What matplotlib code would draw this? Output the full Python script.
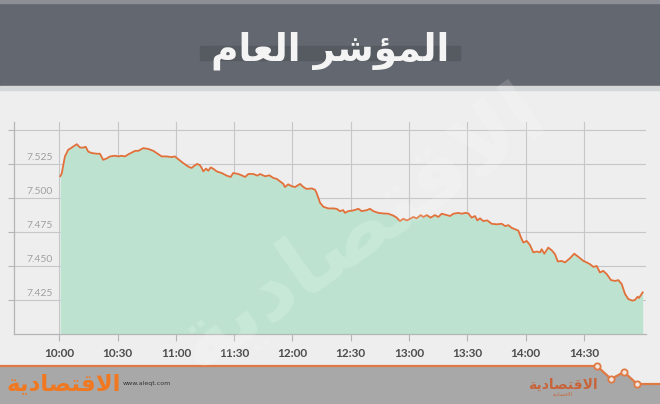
import matplotlib.pyplot as plt
from matplotlib.patches import Rectangle, Polygon
from matplotlib.transforms import blended_transform_factory

# Minutes after 10:00 and index level
minutes = [0.5, 1.2, 2.9, 4.6, 6.0, 7.2, 9.0, 10.7, 12.4, 13.6, 14.9, 16.7, 19.2, 20.9,
           22.6, 24.4, 26.1, 28.7, 30.4, 32.1, 33.8, 35.5, 39.0, 40.7, 43.2, 45.8, 48.4,
           50.1, 52.7, 55.3, 57.8, 59.5, 61.2, 63.8, 66.4, 68.1, 69.8, 71.0, 72.4, 73.3,
           74.1, 75.5, 76.7, 77.9, 79.2, 81.0, 83.6, 86.1, 88.2, 89.5, 92.1, 93.9, 95.6,
           97.3, 99.8, 101.9, 103.3, 105.9, 108.1, 110.1, 111.9, 113.6, 115.3, 116.1, 117.8,
           119.6, 121.3, 123.9, 125.6, 127.3, 129.9, 131.6, 132.4, 133.3, 134.2, 135.9,
           138.4, 141.0, 142.7, 144.4, 146.1, 147.0, 148.7, 151.3, 153.9, 155.6, 158.2,
           159.9, 161.6, 164.2, 166.7, 169.3, 171.9, 173.6, 175.3, 177.0, 178.8, 179.6,
           182.2, 183.9, 186.0, 187.3, 189.1, 191.1, 193.3, 195.0, 196.8, 199.4, 201.1,
           202.8, 205.3, 207.1, 208.8, 210.5, 212.2, 213.9, 215.1, 216.5, 218.2, 220.2,
           222.5, 225.1, 227.7, 229.4, 231.1, 232.8, 234.5, 236.2, 237.6, 238.8, 240.5,
           242.2, 243.9, 245.7, 247.4, 248.2, 249.6, 251.6, 253.4, 255.1, 256.5, 258.5,
           260.2, 262.8, 265.0, 267.1, 269.7, 271.4, 273.1, 274.8, 276.5, 278.2, 279.9,
           281.7, 283.9, 286.0, 287.7, 289.4, 291.1, 292.8, 294.9, 296.2, 297.6, 298.3, 300.2]
index_level = [7516.0, 7517.6, 7530.5, 7535.4, 7536.6, 7537.8, 7539.5, 7537.0, 7537.0, 7537.6,
               7534.0, 7533.0, 7532.5, 7532.5, 7528.0, 7529.0, 7530.5, 7531.0, 7530.5, 7531.0,
               7530.5, 7532.0, 7534.6, 7534.6, 7536.6, 7536.0, 7534.6, 7533.0, 7530.5, 7530.5,
               7530.0, 7530.5, 7528.5, 7525.6, 7523.0, 7522.0, 7524.0, 7525.0, 7524.0, 7522.0,
               7519.5, 7521.5, 7520.0, 7522.4, 7521.5, 7519.5, 7518.3, 7516.4, 7515.4, 7518.3,
               7517.6, 7516.6, 7515.4, 7517.6, 7517.6, 7516.4, 7517.6, 7515.9, 7516.6, 7514.7,
               7514.0, 7512.2, 7510.3, 7508.0, 7510.0, 7508.6, 7508.0, 7510.3, 7508.0, 7506.6,
               7507.0, 7506.0, 7503.7, 7500.0, 7496.4, 7493.5, 7492.3, 7492.3, 7492.0, 7490.3,
               7491.0, 7489.0, 7490.3, 7490.8, 7492.0, 7490.3, 7491.0, 7492.0, 7490.3, 7489.0,
               7488.6, 7488.4, 7487.0, 7485.5, 7483.0, 7484.7, 7483.5, 7484.0, 7486.0, 7485.0,
               7487.4, 7486.0, 7487.4, 7485.5, 7487.4, 7486.0, 7488.4, 7487.4, 7486.7, 7488.4,
               7489.0, 7488.4, 7489.0, 7488.6, 7485.5, 7486.7, 7483.5, 7485.0, 7483.0, 7483.5,
               7481.0, 7480.6, 7481.0, 7479.3, 7480.0, 7478.0, 7477.0, 7476.0, 7470.8, 7467.2,
               7468.4, 7465.4, 7460.0, 7460.6, 7460.0, 7462.3, 7459.0, 7463.5, 7461.5, 7458.6,
               7453.3, 7453.7, 7452.6, 7455.7, 7459.0, 7456.7, 7453.7, 7452.6, 7451.3, 7449.3,
               7450.0, 7445.2, 7446.4, 7444.0, 7439.6, 7439.0, 7439.6, 7436.7, 7429.4, 7425.7,
               7424.5, 7425.0, 7427.4, 7426.5, 7430.6]

x_ticks = [0, 30, 60, 90, 120, 150, 180, 210, 240, 270]
x_labels = ["10:00", "10:30", "11:00", "11:30", "12:00", "12:30", "13:00", "13:30", "14:00", "14:30"]
y_ticks = [7425, 7450, 7475, 7500, 7525, 7550]
y_labels = ["7.425", "7.450", "7.475", "7.500", "7.525"]

# Arabic text, pre-shaped (presentation forms, visual order)
title = "\uFEE1\uFE8E\uFECC\uFEDF\uFE8D \uFEAE\uFEB7\uFE86\uFEE4\uFEDF\uFE8D"
brand = "\uFE94\uFEF3\uFEA9\uFE8E\uFEBC\uFE98\uFED7\uFEFB\uFE8D"

fig = plt.figure(figsize=(6.6, 4.04), dpi=100)
fig.patch.set_facecolor("#eeeeee")

# background layer in pixel units
bg = fig.add_axes([0, 0, 1, 1], zorder=0)
bg.set_xlim(0, 660)
bg.set_ylim(404, 0)
bg.axis("off")
bg.add_patch(Rectangle((0, 0), 660, 86, color="#63676f"))
bg.add_patch(Rectangle((0, 0), 660, 3, color="#8c8f95"))
bg.add_patch(Rectangle((0, 86), 660, 4, color="#d6d7d8"))
bg.add_patch(Rectangle((200, 46), 260, 14, color="#565a61"))
bg.text(330, 60, title, family="DejaVu Sans", fontsize=27, fontweight="bold",
        color="#f4f4f4", ha="center", va="baseline")

# footer with zigzag edge
edge = [(0, 366), (597, 366), (611, 379), (624, 372), (637, 384), (660, 384)]
bg.add_patch(Polygon(edge + [(660, 404), (0, 404)], closed=True, color="#a8a8a8"))
ex, ey = zip(*edge)
bg.plot(ex, ey, color="#e07a45", lw=1.6)
bg.plot(ex[1:5], ey[1:5], "o", ms=4.5, mfc="#f2e6de", mec="#e07a45", mew=1.3)
bg.text(64, 384, brand, family="DejaVu Sans", fontsize=16.5, fontweight="bold",
        color="#f07820", ha="center", va="center")
bg.text(123, 383, "www.aleqt.com", fontsize=4.5, color="#333333", ha="left", va="center")
bg.text(563, 385, brand, family="DejaVu Sans", fontsize=10, fontweight="bold",
        color="#c8643a", ha="center", va="center")
bg.text(563, 394, brand, family="DejaVu Sans", fontsize=3.5, color="#c8643a",
        ha="center", va="center")

# chart
ax = fig.add_axes([14 / 660, 1 - 334 / 404, 632 / 660, 212 / 404], zorder=1)
ax.set_facecolor("none")
ax.fill_between(minutes, index_level, 7400, color="#bde3d0", lw=0, zorder=2)
ax.plot(minutes, index_level, color="#e2703a", lw=1.3, zorder=3)

ax.set_xlim(-23.3, 301.9)
ax.set_ylim(7400, 7555.8)
ax.set_xticks(x_ticks)
ax.set_xticklabels(x_labels, family="Lato", fontsize=8.5, fontweight="bold", color="#4d4d4d")
ax.set_yticks(y_ticks)
ax.set_yticklabels([])
ax.tick_params(axis="x", length=5, width=0.8, color="#b5b5b5", pad=5)
ax.tick_params(axis="y", length=4, width=0.8, color="#b5b5b5")
ax.grid(True, color="#c6c7c9", lw=0.8, zorder=1)
ax.set_axisbelow(True)
for side in ["top", "right"]:
    ax.spines[side].set_visible(False)
for side in ["left", "bottom"]:
    ax.spines[side].set_color("#b5b5b5")
    ax.spines[side].set_linewidth(0.9)

trans = blended_transform_factory(ax.transAxes, ax.transData)
for val, lab in zip(y_ticks, y_labels):
    ax.text(0.02, val + 1.2, lab, transform=trans, family="Lato", fontsize=7.5,
            color="#a0a0a0", ha="left", va="bottom")

# faint watermark
ax.text(0.55, 0.5, brand, transform=ax.transAxes, family="DejaVu Sans", fontsize=62,
        fontweight="bold", color="white", alpha=0.16, rotation=35,
        ha="center", va="center", zorder=4)

plt.savefig("out.png", dpi=100, facecolor=fig.get_facecolor())
